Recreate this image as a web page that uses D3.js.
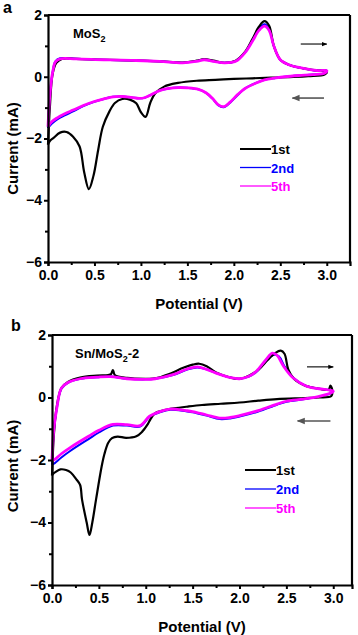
<!DOCTYPE html>
<html>
<head>
<meta charset="utf-8">
<script src="https://cdn.jsdelivr.net/npm/d3@7"></script>
<style>
body { margin: 0; background: #fff; }
svg text { font-family: "Liberation Sans", Arial, sans-serif; font-weight: bold; }
</style>
</head>
<body>
<script>
"use strict";
// potential (V), current (mA), anodic sweep first then cathodic
const mos2First = [[0,-2.2],[0.02,-1.0],[0.05,0.1],[0.09,0.45],[0.15,0.58],[0.3,0.58],[0.6,0.55],[0.9,0.53],[1.2,0.5],[1.45,0.46],[1.6,0.52],[1.68,0.57],[1.78,0.52],[1.9,0.45],[2.02,0.52],[2.12,0.8],[2.2,1.22],[2.27,1.62],[2.33,1.8],[2.38,1.65],[2.43,1.0],[2.5,0.55],[2.6,0.38],[2.75,0.27],[2.9,0.2],[3.0,0.18],
  [2.98,0.08],[2.8,0.02],[2.6,-0.01],[2.4,-0.03],[2.2,-0.05],[2.0,-0.07],[1.8,-0.1],[1.6,-0.13],[1.4,-0.2],[1.25,-0.32],[1.15,-0.55],[1.1,-0.85],[1.05,-1.3],[1.0,-1.15],[0.95,-0.86],[0.88,-0.74],[0.8,-0.72],[0.72,-0.85],[0.66,-1.13],[0.59,-1.62],[0.54,-2.37],[0.49,-3.2],[0.44,-3.64],[0.39,-3.1],[0.34,-2.26],[0.27,-1.94],[0.2,-1.79],[0.13,-1.81],[0.06,-1.98],[0.02,-2.08],[0,-2.2]];
const mos2Second = [[0,-1.66],[0.02,-0.6],[0.05,0.15],[0.08,0.5],[0.13,0.6],[0.3,0.58],[0.6,0.55],[0.9,0.53],[1.2,0.5],[1.45,0.45],[1.6,0.51],[1.68,0.56],[1.78,0.5],[1.9,0.45],[2.02,0.51],[2.12,0.79],[2.2,1.18],[2.27,1.55],[2.33,1.7],[2.38,1.55],[2.43,1.0],[2.5,0.55],[2.6,0.38],[2.75,0.27],[2.9,0.2],[3.0,0.2],
  [2.98,0.12],[2.85,0.07],[2.7,0.04],[2.55,0.0],[2.45,-0.04],[2.33,-0.1],[2.24,-0.2],[2.12,-0.38],[2.04,-0.6],[1.96,-0.84],[1.89,-0.99],[1.83,-0.92],[1.77,-0.71],[1.7,-0.52],[1.62,-0.41],[1.5,-0.36],[1.4,-0.35],[1.3,-0.38],[1.2,-0.45],[1.1,-0.6],[1.04,-0.68],[0.98,-0.7],[0.9,-0.67],[0.8,-0.64],[0.7,-0.65],[0.6,-0.72],[0.49,-0.82],[0.38,-0.95],[0.27,-1.12],[0.18,-1.25],[0.1,-1.38],[0.04,-1.52],[0,-1.66]];
const mos2Fifth = [[0,-1.62],[0.02,-0.6],[0.05,0.15],[0.08,0.48],[0.13,0.58],[0.3,0.58],[0.6,0.55],[0.9,0.53],[1.2,0.5],[1.45,0.45],[1.6,0.5],[1.68,0.55],[1.78,0.5],[1.9,0.45],[2.02,0.5],[2.12,0.78],[2.2,1.15],[2.27,1.5],[2.33,1.64],[2.38,1.5],[2.43,1.0],[2.5,0.55],[2.6,0.38],[2.75,0.27],[2.9,0.2],[3.0,0.2],
  [2.98,0.12],[2.85,0.07],[2.7,0.04],[2.55,0.0],[2.45,-0.04],[2.33,-0.1],[2.24,-0.2],[2.12,-0.38],[2.04,-0.58],[1.96,-0.82],[1.89,-0.97],[1.83,-0.9],[1.77,-0.7],[1.7,-0.52],[1.62,-0.41],[1.5,-0.36],[1.4,-0.35],[1.3,-0.38],[1.2,-0.45],[1.1,-0.6],[1.04,-0.68],[0.98,-0.7],[0.9,-0.67],[0.8,-0.64],[0.7,-0.65],[0.6,-0.72],[0.49,-0.81],[0.38,-0.93],[0.27,-1.08],[0.18,-1.2],[0.1,-1.33],[0.04,-1.46],[0,-1.62]];

const snFirst = [[0,-2.5],[0.02,-1.2],[0.05,-0.3],[0.1,0.3],[0.17,0.5],[0.3,0.64],[0.48,0.7],[0.6,0.72],[0.63,0.75],[0.65,0.88],[0.67,0.72],[0.8,0.63],[1.0,0.6],[1.1,0.61],[1.25,0.75],[1.4,0.95],[1.5,1.05],[1.57,1.08],[1.65,1.0],[1.75,0.8],[1.9,0.64],[2.0,0.6],[2.1,0.7],[2.2,0.88],[2.3,1.2],[2.38,1.42],[2.44,1.5],[2.48,1.4],[2.52,0.9],[2.58,0.6],[2.7,0.38],[2.85,0.28],[2.95,0.25],[2.97,0.38],[2.99,0.22],
  [2.98,0.05],[2.85,0.0],[2.7,-0.02],[2.4,-0.05],[2.2,-0.1],[2.0,-0.16],[1.8,-0.2],[1.6,-0.24],[1.45,-0.29],[1.3,-0.35],[1.18,-0.42],[1.1,-0.5],[1.05,-0.7],[1.02,-0.86],[0.96,-1.1],[0.9,-1.24],[0.79,-1.29],[0.7,-1.25],[0.64,-1.3],[0.6,-1.45],[0.56,-1.8],[0.53,-2.2],[0.47,-3.26],[0.43,-4.0],[0.4,-4.4],[0.37,-4.0],[0.32,-3.26],[0.3,-2.8],[0.26,-2.62],[0.2,-2.4],[0.15,-2.32],[0.09,-2.3],[0.04,-2.38],[0.01,-2.45],[0,-2.5]];
const snSecond = [[0,-2.15],[0.02,-1.05],[0.05,-0.38],[0.1,0.28],[0.17,0.47],[0.3,0.6],[0.48,0.65],[0.62,0.67],[0.8,0.6],[1.0,0.58],[1.1,0.6],[1.29,0.72],[1.45,0.9],[1.55,0.96],[1.65,0.9],[1.75,0.78],[1.9,0.64],[2.0,0.6],[2.1,0.67],[2.18,0.82],[2.28,1.15],[2.36,1.36],[2.42,1.32],[2.48,1.0],[2.58,0.62],[2.71,0.37],[2.85,0.28],[2.95,0.24],[3.0,0.2],
  [2.98,0.14],[2.84,0.02],[2.68,-0.06],[2.5,-0.14],[2.4,-0.23],[2.2,-0.45],[2.0,-0.61],[1.9,-0.67],[1.79,-0.69],[1.65,-0.58],[1.5,-0.47],[1.43,-0.44],[1.26,-0.39],[1.15,-0.47],[1.04,-0.62],[0.94,-0.93],[0.8,-0.9],[0.65,-0.9],[0.5,-1.12],[0.39,-1.33],[0.19,-1.72],[0.1,-1.92],[0.03,-2.1],[0,-2.15]];
const snFifth = [[0,-2.0],[0.02,-1.0],[0.05,-0.37],[0.1,0.3],[0.17,0.48],[0.3,0.6],[0.48,0.65],[0.62,0.67],[0.8,0.6],[1.0,0.58],[1.1,0.6],[1.29,0.73],[1.45,0.92],[1.55,0.98],[1.65,0.9],[1.75,0.78],[1.9,0.64],[2.0,0.6],[2.1,0.68],[2.18,0.84],[2.28,1.2],[2.35,1.42],[2.4,1.35],[2.47,1.0],[2.57,0.63],[2.71,0.37],[2.85,0.28],[2.95,0.24],[3.0,0.2],
  [2.98,0.15],[2.84,0.03],[2.68,-0.05],[2.5,-0.12],[2.4,-0.21],[2.2,-0.42],[2.0,-0.58],[1.9,-0.64],[1.79,-0.66],[1.65,-0.56],[1.5,-0.45],[1.43,-0.42],[1.26,-0.37],[1.15,-0.45],[1.04,-0.6],[0.94,-0.9],[0.8,-0.87],[0.65,-0.86],[0.5,-1.05],[0.39,-1.24],[0.19,-1.61],[0.1,-1.8],[0.03,-1.98],[0,-2.02]];

const cycles = ["1st", "2nd", "5th"];
const colors = ["#000000", "#0000ff", "#ff00ff"];
const widths = [2.2, 2, 2.8];
const xTicks = [0, 0.5, 1, 1.5, 2, 2.5, 3];
const xMinor = [0.25, 0.75, 1.25, 1.75, 2.25, 2.75];
const yTicks = [-6, -4, -2, 0, 2];
const yMinor = [-5, -3, -1, 1];
// sweep direction arrows [x1, x2, y] in data units
const arrowsA = [[2.72, 3.0, 1.06], [2.97, 2.63, -0.69]];
const arrowsB = [[2.72, 3.0, 0.98], [2.97, 2.62, -0.75]];

const W = 358, H = 635;
const svg = d3.select("body").append("svg").attr("width", W).attr("height", H);
const defs = svg.append("defs");
[["arrBlack", "#000"], ["arrGray", "#555"]].forEach(([id, c]) => {
	defs.append("marker").attr("id", id).attr("viewBox", "0 0 10 10").attr("refX", 9).attr("refY", 5)
	.attr("markerWidth", 5).attr("markerHeight", 5).attr("orient", "auto-start-reverse")
	.append("path").attr("d", "M0,1 L10,5 L0,9 z").attr("fill", c);
});

function panel(cfg) {
	const x = d3.scaleLinear().domain([0, cfg.xMax]).range([cfg.left, cfg.right]);
	const y = d3.scaleLinear().domain([-6, 2]).range([cfg.bottom, cfg.top]);
	const g = svg.append("g");

	const line = d3.line().x(d => x(d[0])).y(d => y(d[1])).curve(d3.curveCatmullRom.alpha(0.5));
	[1, 0, 2].forEach(i => {
		g.append("path").datum(cfg.series[i]).attr("d", line).attr("fill", "none")
		.attr("stroke", colors[i]).attr("stroke-width", widths[i]).attr("stroke-linejoin", "round");
	});

	// frame top and right
	g.append("line").attr("x1", cfg.left).attr("x2", cfg.right).attr("y1", cfg.top).attr("y2", cfg.top).attr("stroke", "#000").attr("stroke-width", 2.2);
	g.append("line").attr("x1", cfg.right).attr("x2", cfg.right).attr("y1", cfg.top).attr("y2", cfg.bottom).attr("stroke", "#000").attr("stroke-width", 2.2);

	const xa = g.append("g").attr("transform", "translate(0," + cfg.bottom + ")")
	.call(d3.axisBottom(x).tickValues(xTicks).tickFormat(d3.format(".1f")).tickSize(4).tickPadding(4));
	g.append("g").attr("transform", "translate(0," + cfg.bottom + ")")
	.call(d3.axisBottom(x).tickValues(xMinor).tickFormat("").tickSize(3)).select(".domain").remove();
	const ya = g.append("g").attr("transform", "translate(" + cfg.left + ",0)")
	.call(d3.axisLeft(y).tickValues(yTicks).tickSize(4).tickPadding(2));
	g.append("g").attr("transform", "translate(" + cfg.left + ",0)")
	.call(d3.axisLeft(y).tickValues(yMinor).tickFormat("").tickSize(3)).select(".domain").remove();
	g.selectAll(".tick line").attr("stroke-width", 2);
	g.selectAll(".domain").attr("stroke-width", 2.2);
	xa.selectAll("text").attr("font-size", 14).attr("fill", "#000");
	ya.selectAll("text").attr("font-size", 14).attr("fill", "#000");

	g.append("text").attr("x", (cfg.left + cfg.right) / 2).attr("y", cfg.bottom + 47).attr("text-anchor", "middle")
	.attr("font-size", 15).text("Potential (V)");
	g.append("text").attr("transform", "translate(" + 18 + "," + ((cfg.top + cfg.bottom) / 2 + cfg.yLabDy) + ") rotate(-90)")
	.attr("text-anchor", "middle").attr("font-size", 15).text("Current (mA)");
	g.append("text").attr("x", cfg.letterX).attr("y", cfg.letterY).attr("font-size", 16).text(cfg.letter);

	const name = g.append("text").attr("x", cfg.left + cfg.nameDx).attr("y", cfg.top + 23).attr("font-size", 13);
	name.append("tspan").text(cfg.name[0]);
	name.append("tspan").attr("font-size", 9).attr("dy", 4).text("2");
	name.append("tspan").attr("dy", -4).text(cfg.name[1]);

	cfg.arrows.forEach((a, i) => {
		g.append("line").attr("x1", x(a[0])).attr("x2", x(a[1])).attr("y1", y(a[2])).attr("y2", y(a[2]))
		.attr("stroke", i ? "#555" : "#000").attr("stroke-width", i ? 1.6 : 1.1)
		.attr("marker-end", i ? "url(#arrGray)" : "url(#arrBlack)");
	});

	const lg = g.append("g").attr("transform", "translate(" + cfg.legX + "," + cfg.legY + ")");
	cycles.forEach((c, i) => {
		lg.append("line").attr("x1", 0).attr("x2", 31).attr("y1", i * cfg.legStep).attr("y2", i * cfg.legStep)
		.attr("stroke", colors[i]).attr("stroke-width", i ? 1.3 : 2);
		lg.append("text").attr("x", 31).attr("y", i * cfg.legStep + 5).attr("font-size", 13)
		.attr("fill", colors[i]).text(c);
	});
}

panel({ top: 15, bottom: 262, left: 48, right: 350, xMax: 3.25, letter: "a", letterX: 3, letterY: 13, yLabDy: 10,
	name: ["MoS", ""], nameDx: 25, series: [mos2First, mos2Second, mos2Fifth], arrows: arrowsA,
	legX: 240, legY: 149, legStep: 18.5 });
panel({ top: 335, bottom: 585, left: 52, right: 352, xMax: 3.2, letter: "b", letterX: 11, letterY: 331, yLabDy: 6,
	name: ["Sn/MoS", "-2"], nameDx: 23, series: [snFirst, snSecond, snFifth], arrows: arrowsB,
	legX: 245, legY: 470, legStep: 19 });
</script>
</body>
</html>
